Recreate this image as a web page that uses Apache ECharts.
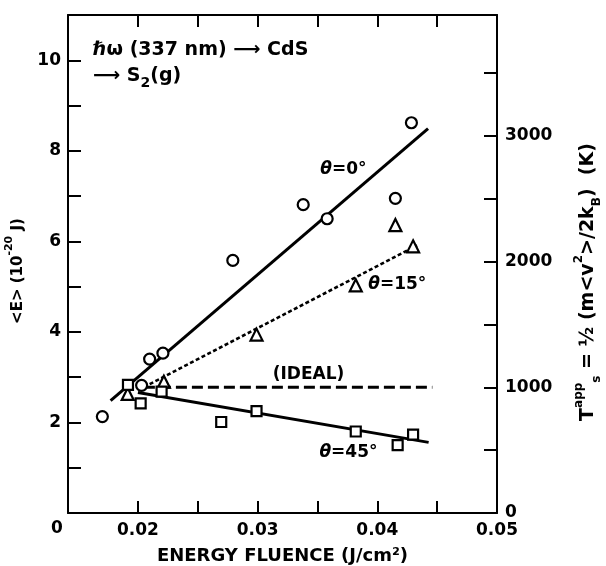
<!DOCTYPE html>
<html><head><meta charset="utf-8">
<script src="https://cdn.jsdelivr.net/npm/echarts@6/dist/echarts.min.js"></script>
<style>html,body{margin:0;padding:0;background:#fff}#c{width:606px;height:566px}</style>
</head><body><div id="c"></div>
<script>
// ---- data ----
const xMin = 0.01416, xMax = 0.05;
const xTicks = [0.02, 0.025, 0.03, 0.035, 0.04, 0.045, 0.05];
const xTickLabels = [0.02, 0.03, 0.04, 0.05];
const yLeftLabels = [2, 4, 6, 8, 10];
const yRightTicks = [500, 1000, 1500, 2000, 2500, 3000, 3500];
const yRightLabels = [0, 1000, 2000, 3000];
const circles0 = [[0.01703,2.13],[0.02031,2.82],[0.02098,3.40],[0.02209,3.53],[0.02793,5.58],[0.03381,6.81],[0.03581,6.50],[0.04151,6.95],[0.04285,8.62]];
const triangles15 = [[0.01915,2.63],[0.02217,2.90],[0.02991,3.94],[0.03820,5.03],[0.04151,6.36],[0.04299,5.89]];
const squares45 = [[0.01917,2.83],[0.02023,2.42],[0.02198,2.68],[0.02696,2.01],[0.02991,2.25],[0.03820,1.80],[0.04170,1.50],[0.04299,1.73]];
const fit0 = [[0.01772,2.48],[0.04424,8.49]];
const fit15 = [[0.0205,2.78],[0.04332,5.91]];
const fit45 = [[0.0200,2.66],[0.04429,1.56]];
const ideal = [[0.0205,2.78],[0.0446,2.78]];
const annotations = [[0.03717,7.59,'θ','=0°'],[0.04167,5.04,'θ','=15°'],[0.03425,3.05,'','(IDEAL)'],[0.03759,1.33,'θ','=45°']];

const FF = 'DejaVu Sans';
const K = '#000';
const chart = echarts.init(document.getElementById('c'), null, {renderer:'canvas'});
const lineSeries = (data, type, width) => ({
  type:'line', data, symbol:'none', xAxisIndex:0, yAxisIndex:0, silent:true,
  lineStyle:{color:K, width, type}, z:2
});
const scat = (data, symbol, size) => ({
  type:'scatter', data, symbol, symbolSize:size, xAxisIndex:0, yAxisIndex:0,
  itemStyle:{color:'#fff', borderColor:K, borderWidth:2.2, opacity:1}, z:3
});
chart.setOption({
  animation:false,
  backgroundColor:'#fff',
  grid:{left:68, right:109, top:15, bottom:53, containLabel:false, outerBoundsMode:'none'},
  xAxis:[{
    type:'value', min:xMin, max:xMax, position:'bottom',
    axisLine:{show:true, onZero:false, lineStyle:{color:K, width:2}},
    axisTick:{show:true, inside:true, length:12, customValues:xTicks, lineStyle:{color:K, width:2}},
    axisLabel:{customValues:xTickLabels, formatter:v=>v.toFixed(2), color:K, fontSize:17, fontWeight:'bold', fontFamily:FF, margin:9},
    splitLine:{show:false},
    name:'ENERGY FLUENCE (J/cm²)', nameLocation:'middle', nameGap:34,
    nameTextStyle:{color:K, fontSize:18, fontWeight:'bold', fontFamily:FF}
  },{
    type:'value', min:xMin, max:xMax, position:'top',
    axisLine:{show:true, onZero:false, lineStyle:{color:K, width:2}},
    axisTick:{show:true, inside:true, length:12, customValues:xTicks, lineStyle:{color:K, width:2}},
    axisLabel:{show:false}, splitLine:{show:false}
  }],
  yAxis:[{
    type:'value', min:0, max:11, interval:1, position:'left',
    axisLine:{show:true, onZero:false, lineStyle:{color:K, width:2}},
    axisTick:{show:true, inside:true, length:13, lineStyle:{color:K, width:2}},
    axisLabel:{customValues:yLeftLabels, color:K, fontSize:17, fontWeight:'bold', fontFamily:FF, margin:7},
    splitLine:{show:false},
    name:'{t|<E> (10}{sup|-20}{t| J)}', nameLocation:'middle', nameGap:42,
    nameTextStyle:{color:K, fontFamily:FF, padding:[0,14,0,0], rich:{
      t:{fontSize:15, fontWeight:'bold', fontFamily:FF, color:K, lineHeight:22, verticalAlign:'bottom'},
      sup:{fontSize:11, fontWeight:'bold', fontFamily:FF, color:K, lineHeight:22, verticalAlign:'top'}
    }}
  },{
    type:'value', min:0, max:3963, position:'right',
    axisLine:{show:true, onZero:false, lineStyle:{color:K, width:2}},
    axisTick:{show:true, inside:true, length:13, customValues:yRightTicks, lineStyle:{color:K, width:2}},
    axisLabel:{customValues:yRightLabels, formatter:v=>String(v), color:K, fontSize:17, fontWeight:'bold', fontFamily:FF, margin:8},
    splitLine:{show:false},
    name:'{t|T}{sup|app}{sub|s}{t| = ½ (m<v}{sup|2}{t|>/2k}{sub|B}{t|)  (K)}',
    nameLocation:'middle', nameGap:76,
    nameTextStyle:{color:K, fontFamily:FF, padding:[0,36,0,0], rich:{
      t:{fontSize:19, fontWeight:'bold', fontFamily:FF, color:K, lineHeight:30, verticalAlign:'middle'},
      sup:{fontSize:12, fontWeight:'bold', fontFamily:FF, color:K, lineHeight:30, verticalAlign:'top'},
      sub:{fontSize:12, fontWeight:'bold', fontFamily:FF, color:K, lineHeight:30, verticalAlign:'bottom'}
    }}
  }],
  series:[
    lineSeries(fit0, 'solid', 3),
    lineSeries(fit15, [4,2.5], 2.6),
    lineSeries(ideal, [11,5], 3),
    lineSeries(fit45, 'solid', 3),
    scat(circles0, 'circle', 11),
    scat(triangles15, 'triangle', 12),
    scat(squares45, 'rect', 10)
  ],
  graphic:[
    {type:'text', left:93, top:41, style:{text:'ℏω (337 nm) ⟶ CdS', font:'bold 19px "DejaVu Sans"', fill:K}},
    {type:'text', left:93, top:67, style:{text:'{t|⟶ S}{sub|2}{t|(g)}', fill:K, rich:{
      t:{fontSize:19, fontWeight:'bold', fontFamily:FF, fill:K, lineHeight:28, verticalAlign:'middle'},
      sub:{fontSize:14, fontWeight:'bold', fontFamily:FF, fill:K, lineHeight:28, verticalAlign:'bottom'}
    }}},
    {type:'text', left:51, top:520, style:{text:'0', font:'bold 17px "DejaVu Sans"', fill:K}}
  ]
});
// annotation labels placed through the axes' own scales
const annGraphics = annotations.map(a => {
  const p = chart.convertToPixel({xAxisIndex:0, yAxisIndex:0}, [a[0], a[1]]);
  return {type:'text', x:p[0], y:p[1], z:10, style:{
    text:(a[2] ? '{th|'+a[2]+'}' : '') + '{n|'+a[3]+'}',
    align:'center', verticalAlign:'middle', fill:K,
    rich:{
      th:{fontSize:17, fontFamily:FF, fontStyle:'italic', fontWeight:'bold', fill:K},
      n:{fontSize:17, fontFamily:FF, fontWeight:'bold', fill:K}
    }}};
});
const opt = chart.getOption();
chart.setOption({graphic: opt.graphic[0].elements.concat(annGraphics)});
</script></body></html>
